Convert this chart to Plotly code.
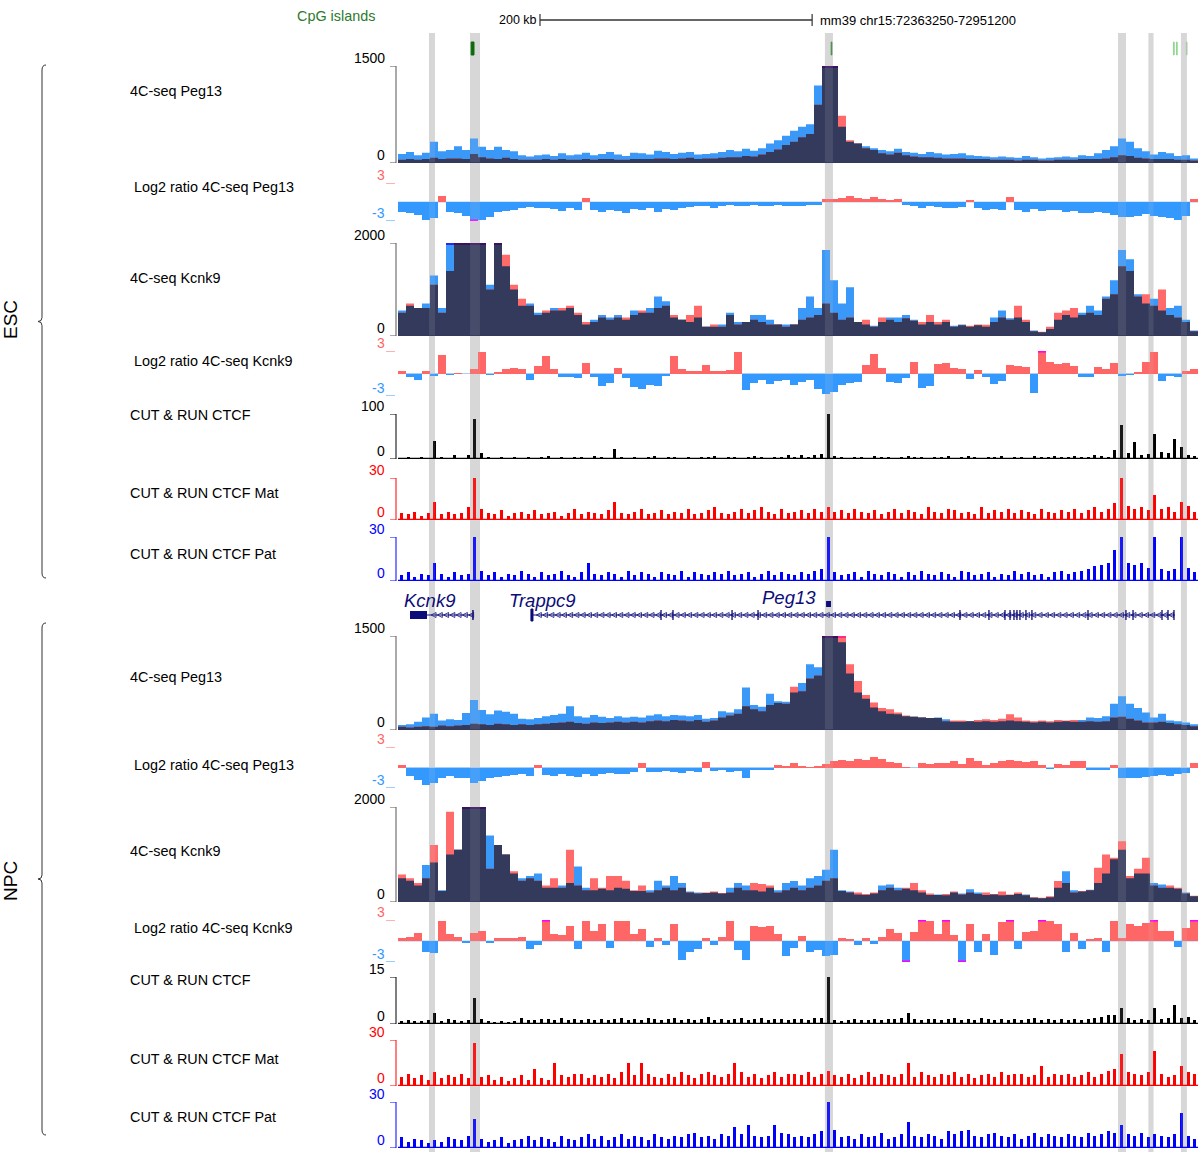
import numpy as np
import plotly.graph_objects as go

START, END = 72363250, 72951200
SPAN = END - START
ASSEMBLY, CHROM = "mm39", "chr15"

# ---------------- data ----------------
highlight_regions = [(72386050, 72390450), (72416200, 72423500), (72677000, 72682900),
                     (72892400, 72898300), (72914800, 72918500), (72938650, 72943050)]
cpg_islands = [(72417000, 72419100), (72681600, 72682100), (72933200, 72933700),
               (72935400, 72935900), (72942600, 72943100)]
cpg_colors = ['#0b6b0b', '#4f8f4f', '#8fd88f', '#8fd88f', '#a8c8a8']

kcnk9_span = (72372050, 72418350)
kcnk9_thick = (72372050, 72384550)
trappc9_span = (72460950, 72934250)
trappc9_exons = [72556550, 72565350, 72608750, 72627850, 72776250, 72797550, 72809350,
                 72813050, 72815950, 72818150, 72820350, 72824750, 72829150, 72870350,
                 72898250, 72903450, 72924750, 72929150, 72933550]
peg13_span = (72677850, 72681450)
scale_bar_bp = 200000
scale_bar_start = 72467600

esc_peg13_blue = [140,170,120,160,330,180,200,260,200,380,
 250,200,250,200,180,120,100,120,130,110,
 150,120,130,160,120,140,170,130,110,160,
 150,130,190,170,140,160,170,130,140,150,
 170,200,180,220,190,230,300,350,420,500,
 560,600,1200,1700,1700,560,330,300,260,230,
 200,180,220,170,160,140,170,150,130,140,
 150,120,110,100,90,100,90,80,110,90,
 70,80,90,100,90,120,110,150,200,260,
 380,330,230,180,130,170,150,110,120,70]
esc_peg13_red = [50,60,50,60,80,60,70,70,60,140,
 90,70,60,80,60,50,50,50,60,50,
 60,50,50,60,50,60,60,50,50,60,
 60,60,70,70,60,70,80,60,70,70,
 80,90,90,110,100,130,170,210,280,330,
 400,450,900,1700,1700,730,350,300,230,200,
 150,130,160,120,100,90,90,80,70,70,
 70,60,60,60,50,50,50,40,50,50,
 40,40,50,50,50,60,60,60,70,90,
 120,110,80,70,60,60,60,50,50,40]
esc_lr_peg13 = [-1.5,-1.8,-2.0,-2.8,-2.5,1.0,-1.6,-1.8,-2.2,-3.3,
 -2.8,-2.4,-1.6,-1.4,-1.2,-0.9,-0.8,-1.0,-0.9,-1.1,
 -1.4,-1.0,-1.2,0.7,-1.3,-1.6,-1.2,-1.4,-1.8,-1.1,
 -1.3,-1.0,-1.5,-1.1,-1.3,-1.0,-0.8,-0.7,-0.6,-0.9,
 -0.6,-0.5,-0.7,-0.6,-0.5,-0.7,-0.6,-0.5,-0.6,-0.6,
 -0.7,-0.5,-0.4,0.4,0.5,0.6,0.9,0.6,0.4,0.8,
 0.5,0.3,0.4,-0.5,-0.7,-0.9,-0.7,-0.8,-1.0,-0.9,
 -0.8,0.3,-1.0,-1.2,-1.1,-1.3,0.8,-1.2,-1.5,-1.1,
 -1.4,-1.2,-1.3,-1.6,-1.4,-1.7,-1.8,-1.5,-1.7,-2.1,
 -2.4,-2.3,-2.2,-1.9,-2.2,-2.4,-2.6,-2.9,-2.2,0.5]
esc_kcnk9_blue = [550,650,600,700,1300,600,2100,2100,2100,2100,
 2100,1100,2100,1500,1000,650,700,500,500,600,
 550,600,450,250,350,450,400,450,350,550,
 500,600,850,750,400,350,300,400,200,200,
 250,500,300,300,450,450,350,250,250,250,
 600,850,600,1850,1200,700,1050,300,250,220,
 300,400,400,450,350,250,300,250,300,220,
 250,200,230,200,400,550,380,400,300,120,
 80,150,350,450,400,500,650,550,850,1200,
 1850,1650,900,700,800,550,600,650,350,120]
esc_kcnk9_red = [500,700,600,600,1100,500,1400,2100,2100,2100,
 2100,1000,2100,1750,1100,800,650,450,550,550,
 600,650,500,300,300,400,350,400,400,450,
 550,500,600,650,450,350,450,650,200,250,
 200,450,250,300,350,300,250,250,200,250,
 350,400,450,700,500,350,400,300,350,200,
 400,350,300,380,330,300,450,300,350,200,
 230,220,250,240,300,400,350,650,350,100,
 90,200,500,550,600,450,500,450,800,900,
 1500,1400,850,900,650,1000,450,400,300,100]
esc_lr_kcnk9 = [0.4,-0.4,-0.8,0.3,-0.3,2.5,-0.2,0.1,-0.1,0.6,
 2.9,-0.2,0.2,0.6,0.7,0.6,-0.9,1.0,2.3,0.6,
 -0.5,-0.4,-0.6,1.4,-0.5,-1.6,-1.2,0.8,-0.6,-1.8,
 -2.0,-1.5,-1.6,-0.3,2.3,0.6,0.4,0.3,1.2,0.4,
 0.3,0.5,2.9,-2.2,-1.2,-0.9,-1.4,-1.0,-0.8,-1.5,
 -1.1,-0.9,-2.0,-2.7,-2.4,-1.5,-1.3,-1.1,1.2,2.6,
 0.8,-1.1,-1.2,-0.6,1.5,-1.9,-1.7,1.3,1.4,0.8,
 0.6,-0.7,0.5,-0.5,-1.4,-1.0,1.2,1.0,0.9,-2.6,
 3.3,1.5,1.3,1.4,1.0,-0.4,-0.5,0.9,0.6,1.4,
 -0.3,-0.2,0.2,1.6,2.9,-1.0,-0.3,-0.4,0.3,0.6]
esc_ctcf = [3,4,3,5,3,40,4,3,10,3,
 9,88,14,4,3,5,3,4,2,5,
 3,4,6,3,4,3,5,4,3,6,
 4,3,22,4,3,5,3,4,6,3,
 4,5,3,4,3,5,4,6,3,4,
 5,3,4,6,4,3,5,4,9,4,
 8,4,8,12,104,6,4,3,5,4,
 3,6,4,5,3,4,6,5,4,3,
 5,4,6,3,5,7,4,3,5,4,
 6,3,4,5,3,6,4,5,7,4,
 5,6,4,5,8,6,5,20,76,14,
 37,10,12,56,15,14,44,26,10,6]
esc_ctcf_mat = [5,4,6,3,5,13,4,6,4,5,
 9,32,8,5,4,7,3,5,6,4,
 7,4,5,6,3,5,8,4,6,5,
 4,7,13,5,4,6,8,4,5,7,
 4,6,5,8,4,5,7,9,5,4,
 6,8,5,7,9,6,4,8,5,6,
 7,5,8,6,9,6,7,5,8,6,
 5,7,4,6,8,5,7,6,4,9,
 6,5,8,7,5,6,4,9,5,7,
 6,8,5,7,6,4,8,6,5,7,
 6,8,5,7,9,6,8,12,33,10,
 8,9,7,18,8,9,6,13,10,6]
esc_ctcf_pat = [4,6,3,5,4,12,5,3,6,4,
 5,32,7,4,6,3,5,4,7,5,
 3,6,4,5,7,4,3,6,12,5,
 4,6,5,3,7,4,6,5,3,6,
 5,4,7,3,6,5,4,6,5,7,
 4,5,6,3,5,7,4,6,5,4,
 6,5,7,8,32,6,4,5,6,3,
 7,5,4,6,5,3,6,4,7,5,
 4,6,5,3,7,6,4,5,6,3,
 5,4,7,5,6,4,5,3,6,7,
 5,6,7,8,10,11,12,21,32,12,
 11,12,9,32,8,7,8,32,9,6]

npc_peg13_blue = [80,90,130,200,260,150,170,160,270,480,
 320,250,310,290,260,180,170,190,220,240,
 260,380,220,200,240,210,190,220,200,210,
 200,230,250,220,240,230,220,240,180,190,
 300,280,330,680,400,370,580,460,450,600,
 750,1050,1000,1600,1600,1400,900,600,500,360,
 300,260,250,220,210,200,190,200,170,130,
 130,140,130,140,130,140,150,140,130,120,
 130,120,130,140,130,160,200,190,220,420,
 540,420,350,280,200,260,150,140,120,90]
npc_peg13_red = [50,40,50,60,50,70,60,70,80,100,
 90,80,100,90,80,90,80,90,100,110,
 120,130,110,100,120,110,120,130,120,130,
 120,140,150,140,160,150,140,160,130,150,
 200,230,260,380,330,300,400,430,420,690,
 620,820,870,1600,1600,1600,1050,780,560,440,
 350,330,280,230,210,200,190,190,140,150,
 150,140,160,170,160,180,250,200,150,140,
 150,140,160,150,160,130,140,130,140,200,
 210,180,150,120,120,130,110,90,80,60]
npc_lr_peg13 = [0.3,-1.2,-1.8,-2.6,-2.2,-1.6,-1.3,-1.5,-1.6,-2.2,
 -2.0,-1.5,-1.4,-1.3,-1.1,-1.0,-1.2,0.4,-1.1,-1.3,
 -1.0,-1.2,-1.4,-1.0,-1.2,-0.9,-0.8,-1.0,-0.9,-0.7,
 0.6,-0.6,-0.7,-0.5,-0.6,-0.8,-0.5,-0.6,0.8,-0.5,
 -0.4,-0.6,-0.5,-1.5,-0.4,-0.3,-0.3,0.3,0.2,0.7,
 0.2,0.1,0.2,0.5,0.9,1.1,1.0,1.2,1.1,1.5,
 1.2,0.8,0.7,0.1,-0.1,0.6,0.5,0.7,0.6,0.9,
 0.5,1.4,0.9,0.4,0.6,1.0,1.1,1.0,0.8,0.9,
 0.4,-0.2,0.5,0.3,0.9,1.0,-0.3,-0.4,-0.3,0.4,
 -1.5,-1.6,-1.5,-1.4,-1.2,-1.1,-1.2,-1.0,-0.8,0.6]
npc_kcnk9_blue = [500,450,350,780,830,250,1000,1100,2100,2100,
 2100,1400,1200,1000,600,500,550,600,300,300,
 350,400,750,300,250,280,250,300,280,230,
 230,250,450,350,550,400,220,200,190,200,
 180,300,400,350,250,220,300,250,400,440,
 350,500,550,680,1100,250,220,160,150,180,
 350,370,300,280,250,200,150,160,140,200,
 180,270,200,150,160,140,150,170,160,90,
 80,100,300,650,250,220,260,400,600,900,
 1100,500,600,600,400,370,300,280,200,120]
npc_kcnk9_red = [580,500,400,500,1200,230,1900,1100,2100,2100,
 2100,700,1200,1000,650,450,500,450,350,500,
 300,1100,350,250,500,300,550,550,450,250,
 350,200,250,300,250,300,200,180,200,220,
 190,200,300,250,400,380,350,200,250,300,
 250,300,350,450,500,230,200,200,170,200,
 250,300,250,300,400,250,180,150,170,220,
 160,200,170,200,170,220,160,200,140,100,
 90,120,440,400,200,230,250,720,1000,930,
 1280,550,700,930,350,300,350,300,180,130]
npc_lr_kcnk9 = [0.4,0.6,1.2,-1.5,-1.7,2.9,1.0,0.6,-0.3,1.2,
 1.4,-0.3,0.4,0.5,0.5,0.6,-1.2,-0.6,3.3,1.0,
 0.8,2.2,-1.2,2.9,1.5,2.5,-1.0,2.9,2.8,1.0,
 1.7,-0.8,0.5,-0.5,2.5,-2.7,-1.6,-1.2,0.5,-0.6,
 0.6,2.9,-1.3,-2.7,2.2,2.0,2.2,1.0,-2.2,-1.0,
 0.7,-1.5,-1.3,-2.2,-2.0,0.5,0.3,-0.5,0.5,-0.4,
 0.6,1.7,1.2,-3.3,1.3,3.3,2.9,1.0,3.3,0.8,
 -3.3,2.5,-1.5,1.0,-2.0,2.7,3.3,-1.2,1.3,1.5,
 3.3,2.8,2.5,-1.5,1.2,-1.2,0.3,0.4,-1.5,2.9,
 0.5,2.5,2.2,2.6,3.3,1.5,1.4,-0.8,1.8,3.3]
npc_ctcf = [1.0,1.2,0.8,1.1,1.3,3.6,1.0,1.6,1.2,0.9,
 1.4,8.4,1.5,1.0,0.7,0.8,0.6,0.9,1.8,1.4,
 1.3,1.6,1.5,1.2,1.8,1.4,1.6,1.3,1.5,1.2,
 1.7,1.4,1.5,1.9,1.3,1.6,1.4,2.0,1.5,1.3,
 1.6,1.8,1.4,1.7,1.3,1.5,2.2,1.4,1.6,1.3,
 1.5,1.8,1.4,1.6,1.9,1.3,1.5,1.7,1.4,1.6,
 1.5,1.3,1.8,2.0,14.9,1.4,1.1,1.3,1.6,1.2,
 1.4,1.7,1.3,1.5,1.5,1.8,3.4,1.6,1.2,1.5,
 1.6,1.3,1.5,1.8,1.4,1.6,1.3,1.9,1.5,1.4,
 1.7,1.3,1.6,1.4,1.5,1.8,1.2,1.6,1.4,1.5,
 1.3,1.5,1.2,1.6,1.8,2.2,2.8,3.0,5.2,1.8,
 1.4,1.5,1.3,5.2,1.6,1.8,6.0,2.0,2.2,1.4]
npc_ctcf_mat = [6,8,5,7,4,9,5,7,6,8,
 5,28,6,7,4,6,3,5,7,4,
 11,5,4,15,7,6,8,8,5,7,
 6,8,5,9,15,7,15,8,6,5,
 8,6,9,7,5,8,9,7,6,8,
 15,9,6,8,5,7,9,6,8,8,
 7,9,6,8,10,7,6,8,5,7,
 9,6,8,7,6,8,15,6,9,7,
 6,8,7,9,6,8,5,7,8,6,
 9,7,8,8,6,7,13,6,8,7,
 8,6,7,9,6,8,10,11,21,9,
 8,7,9,23,8,6,7,13,9,8]
npc_ctcf_pat = [7,4,6,5,3,5,4,7,6,5,
 8,19,6,4,5,7,3,5,6,8,
 5,7,6,4,8,6,5,7,9,6,
 8,5,7,9,6,8,7,5,9,7,
 6,8,7,9,10,7,8,6,9,8,
 14,9,15,8,7,8,15,10,9,7,
 8,7,9,11,32,12,7,8,6,9,
 7,8,10,6,7,9,17,8,7,9,
 8,6,11,9,11,12,8,7,9,10,
 8,7,9,6,8,10,7,9,8,7,
 9,8,7,10,8,9,11,10,15,9,
 8,10,7,9,8,7,9,23,8,6]

# ---------------- styling / layout ----------------
FONT = "Liberation Sans, Arial, Helvetica, sans-serif"
BLUE, RED, NAVY = '#3a99f8', '#ff6b6b', '#333a5c'
LR_POS, LR_NEG = '#ff6666', '#3399ff'
GENE = '#0c0c78'
LABEL_SIZE = 14.4
TICK_SIZE = 14

FW, FH = 1200, 1152

tracks = [
    dict(kind='4c', top=66, bot=163, vmin=0, vmax=1500, a=esc_peg13_blue, b=esc_peg13_red, label='4C-seq Peg13', ly=91, lx=130, col='#555555'),
    dict(kind='lr', top=183, bot=221, vmin=-3, vmax=3, a=esc_lr_peg13, label='Log2 ratio 4C-seq Peg13', ly=187, lx=134),
    dict(kind='4c', top=243, bot=336, vmin=0, vmax=2000, a=esc_kcnk9_blue, b=esc_kcnk9_red, label='4C-seq Kcnk9', ly=278, lx=130, col='#555555'),
    dict(kind='lr', top=351, bot=396, vmin=-3, vmax=3, a=esc_lr_kcnk9, label='Log2 ratio 4C-seq Kcnk9', ly=361, lx=134),
    dict(kind='cr', top=414, bot=459, vmin=0, vmax=100, a=esc_ctcf, label='CUT & RUN CTCF', ly=415, lx=130, col='#000000'),
    dict(kind='cr', top=478, bot=520, vmin=0, vmax=30, a=esc_ctcf_mat, label='CUT & RUN CTCF Mat', ly=493, lx=130, col='#ff0000'),
    dict(kind='cr', top=537, bot=581, vmin=0, vmax=30, a=esc_ctcf_pat, label='CUT & RUN CTCF Pat', ly=554, lx=130, col='#0000ff'),
    dict(kind='4c', top=636, bot=730, vmin=0, vmax=1500, a=npc_peg13_blue, b=npc_peg13_red, label='4C-seq Peg13', ly=677, lx=130, col='#555555'),
    dict(kind='lr', top=747, bot=788, vmin=-3, vmax=3, a=npc_lr_peg13, label='Log2 ratio 4C-seq Peg13', ly=765, lx=134),
    dict(kind='4c', top=807, bot=902, vmin=0, vmax=2000, a=npc_kcnk9_blue, b=npc_kcnk9_red, label='4C-seq Kcnk9', ly=851, lx=130, col='#555555'),
    dict(kind='lr', top=920, bot=962, vmin=-3, vmax=3, a=npc_lr_kcnk9, label='Log2 ratio 4C-seq Kcnk9', ly=928, lx=134),
    dict(kind='cr', top=977, bot=1024, vmin=0, vmax=15, a=npc_ctcf, label='CUT & RUN CTCF', ly=980, lx=130, col='#000000'),
    dict(kind='cr', top=1040, bot=1086, vmin=0, vmax=30, a=npc_ctcf_mat, label='CUT & RUN CTCF Mat', ly=1059, lx=130, col='#ff0000'),
    dict(kind='cr', top=1102, bot=1148, vmin=0, vmax=30, a=npc_ctcf_pat, label='CUT & RUN CTCF Pat', ly=1117, lx=130, col='#0000ff'),
]

def px(x): return x / FW
def py(y): return 1 - y / FH
def fmt(v): return str(int(v)) if float(v).is_integer() else str(v)

fig = go.Figure()
shapes, annotations = [], []
layout_axes = {'xaxis': dict(domain=[px(398), px(1198)], range=[START, END], visible=False, fixedrange=True)}

# highlight bands: paper-referenced in y so they sit below every subplot
for s, e in highlight_regions:
    shapes.append(dict(type='rect', xref='x', yref='paper', x0=s, x1=e, y0=0, y1=py(33), fillcolor='#d9d9d9', line=dict(width=0), layer='below'))
    shapes.append(dict(type='rect', xref='x', yref='paper', x0=s, x1=e, y0=0, y1=py(33), fillcolor='rgba(200,200,200,0.13)', line=dict(width=0), layer='above'))

for k, t in enumerate(tracks, start=1):
    yref = 'y' if k == 1 else f'y{k}'
    layout_axes['yaxis' if k == 1 else f'yaxis{k}'] = dict(
        domain=[py(t['bot']), py(t['top'])], range=[t['vmin'], t['vmax']],
        visible=False, fixedrange=True, anchor='x')
    vmax, vmin = t['vmax'], t['vmin']
    a = np.asarray(t['a'], float)
    n = len(a)
    bw = SPAN / n
    xc = START + (np.arange(n) + 0.5) * bw
    common = dict(xaxis='x', yaxis=yref, hoverinfo='skip', showlegend=False)
    if t['kind'] == '4c':
        b = np.asarray(t['b'], float)
        xs = START + np.arange(n + 1) * bw
        ea = np.append(a, a[-1])
        eb = np.append(b, b[-1])
        for arr, col in ((ea, BLUE), (eb, RED), (np.minimum(ea, eb), NAVY)):
            fig.add_trace(go.Scatter(x=xs, y=arr, mode='lines', line=dict(width=0, color=col, shape='hv'),
                                     fill='tozeroy', fillcolor=col, **common))
        for mask, col in (((a > vmax) & (b > vmax), '#3c1260'), ((b > vmax) & (a <= vmax), '#ff2a8a'),
                          ((a > vmax) & (b <= vmax), '#2a2adf')):
            xx, yy = [], []
            for i in np.where(mask)[0]:
                xx += [START + i * bw, START + (i + 1) * bw, None]
                yy += [vmax * 0.992, vmax * 0.992, None]
            if xx:
                fig.add_trace(go.Scatter(x=xx, y=yy, mode='lines', line=dict(width=2.5, color=col), **common))
        shapes.append(dict(type='line', xref='x', yref=yref, x0=START, x1=END, y0=0, y1=0,
                           line=dict(color=NAVY, width=1.5)))
    elif t['kind'] == 'lr':
        fig.add_trace(go.Bar(x=xc, y=np.clip(a, 0, None), width=bw, marker=dict(color=LR_POS, line=dict(width=0)), **common))
        fig.add_trace(go.Bar(x=xc, y=np.clip(a, None, 0), width=bw, marker=dict(color=LR_NEG, line=dict(width=0)), **common))
        xx, yy = [], []
        for i in np.where(np.abs(a) > vmax)[0]:
            s = vmax if a[i] > 0 else vmin
            xx += [START + i * bw, START + (i + 1) * bw, None]
            yy += [s * 0.985, s * 0.985, None]
        if xx:
            fig.add_trace(go.Scatter(x=xx, y=yy, mode='lines', line=dict(width=2.5, color='#ff00ff'), **common))
        shapes.append(dict(type='line', xref='x', yref=yref, x0=START, x1=END, y0=0, y1=0,
                           line=dict(color='#a9cdf3', width=1), layer='below'))
    else:
        fig.add_trace(go.Bar(x=xc, y=a, width=bw * 0.45, marker=dict(color=t['col'], line=dict(width=0)), **common))
        shapes.append(dict(type='line', xref='x', yref=yref, x0=START, x1=END, y0=0, y1=0,
                           line=dict(color=t['col'], width=2.5)))

    if t['kind'] == 'lr':
        top_col, bot_col = LR_POS, LR_NEG
        shapes.append(dict(type='line', xref='paper', yref=yref, x0=px(386), x1=px(395), y0=vmax, y1=vmax, line=dict(color=top_col, width=1)))
        shapes.append(dict(type='line', xref='paper', yref=yref, x0=px(386), x1=px(395), y0=vmin, y1=vmin, line=dict(color=bot_col, width=1)))
        lab_cols = (top_col, bot_col)
    else:
        c = t['col']
        for v in (vmin, vmax):
            shapes.append(dict(type='line', xref='paper', yref=yref, x0=px(390), x1=px(396), y0=v, y1=v, line=dict(color=c, width=1)))
        shapes.append(dict(type='line', xref='paper', yref=yref, x0=px(396), x1=px(396), y0=vmin, y1=vmax, line=dict(color=c, width=1)))
        lab_cols = ('#000000', '#000000') if t['kind'] == '4c' or c == '#000000' else (c, c)
    for v, lc in ((vmax, lab_cols[0]), (vmin, lab_cols[1])):
        annotations.append(dict(text=fmt(v), xref='paper', yref=yref, x=px(387), y=v, xanchor='right',
                                yanchor='bottom', yshift=-2, showarrow=False, font=dict(family=FONT, size=TICK_SIZE, color=lc)))
    annotations.append(dict(text=t['label'], xref='paper', yref='paper', x=px(t['lx'] - 2), y=py(t['ly']),
                            xanchor='left', yanchor='middle', showarrow=False, font=dict(family=FONT, size=LABEL_SIZE, color='#000000')))

# pixel-frame axis for decorations (gene track, header), in page pixel units
G = len(tracks) + 1
gy = f'y{G}'
layout_axes[f'yaxis{G}'] = dict(domain=[0, 1], range=[FH, 0], visible=False, fixedrange=True, anchor='x')

for (s, e), c in zip(cpg_islands, cpg_colors):
    shapes.append(dict(type='rect', xref='x', yref=gy, x0=s, x1=e, y0=42, y1=55, fillcolor=c, line=dict(color=c, width=1)))
annotations.append(dict(text='CpG islands', xref='paper', yref=gy, x=px(295), y=16, xanchor='left', yanchor='middle',
                        showarrow=False, font=dict(family=FONT, size=LABEL_SIZE, color='#2c7a2c')))

sb0, sb1 = scale_bar_start, scale_bar_start + scale_bar_bp
shapes.append(dict(type='line', xref='x', yref=gy, x0=sb0, x1=sb1, y0=20, y1=20, line=dict(color='#333333', width=1.5)))
for xv in (sb0, sb1):
    shapes.append(dict(type='line', xref='x', yref=gy, x0=xv, x1=xv, y0=14, y1=26, line=dict(color='#333333', width=1.2)))
annotations.append(dict(text=f'{scale_bar_bp // 1000} kb', xref='x', yref=gy, x=sb0, y=20, xanchor='right', xshift=-1,
                        yanchor='middle', showarrow=False, font=dict(family=FONT, size=12.5, color='#000000')))
annotations.append(dict(text=f'{ASSEMBLY} {CHROM}:{START}-{END}', xref='x', yref=gy, x=sb1, y=20, xanchor='left', xshift=6,
                        yanchor='middle', showarrow=False, font=dict(family=FONT, size=13, color='#000000')))

GY = 615
shapes.append(dict(type='line', xref='x', yref=gy, x0=kcnk9_span[0], x1=kcnk9_span[1], y0=GY, y1=GY, line=dict(color=GENE, width=1)))
shapes.append(dict(type='rect', xref='x', yref=gy, x0=kcnk9_thick[0], x1=kcnk9_thick[1], y0=611, y1=619, fillcolor=GENE, line=dict(width=0)))
shapes.append(dict(type='line', xref='x', yref=gy, x0=kcnk9_span[1], x1=kcnk9_span[1], y0=610, y1=620, line=dict(color=GENE, width=1.5)))
shapes.append(dict(type='line', xref='x', yref=gy, x0=trappc9_span[0], x1=trappc9_span[1], y0=GY, y1=GY, line=dict(color=GENE, width=1)))
shapes.append(dict(type='rect', xref='x', yref=gy, x0=trappc9_span[0], x1=trappc9_span[0] + 1500, y0=609, y1=621, fillcolor=GENE, line=dict(color=GENE, width=1)))
for ex in trappc9_exons:
    shapes.append(dict(type='line', xref='x', yref=gy, x0=ex, x1=ex, y0=610, y1=620, line=dict(color=GENE, width=1.3)))
shapes.append(dict(type='rect', xref='x', yref=gy, x0=peg13_span[0], x1=peg13_span[1], y0=601, y1=607, fillcolor=GENE, line=dict(width=0)))

chev_x = np.concatenate([np.arange(kcnk9_thick[1] + 3000, kcnk9_span[1] - 1000, 4600),
                         np.arange(trappc9_span[0] + 4000, trappc9_span[1] - 1000, 4600)])
fig.add_trace(go.Scatter(x=chev_x, y=np.full(len(chev_x), GY), mode='markers', xaxis='x', yaxis=gy,
                         marker=dict(symbol='arrow-left-open', size=5, color=GENE, line=dict(width=0.8, color=GENE)),
                         hoverinfo='skip', showlegend=False))

gfont = dict(family=FONT, size=18.5, color=GENE)
annotations.append(dict(text='<i>Kcnk9</i>', xref='x', yref=gy, x=kcnk9_span[0], xshift=-8, y=600, xanchor='left', yanchor='middle', showarrow=False, font=gfont))
annotations.append(dict(text='<i>Trappc9</i>', xref='x', yref=gy, x=trappc9_span[0], xshift=-24, y=600, xanchor='left', yanchor='middle', showarrow=False, font=gfont))
annotations.append(dict(text='<i>Peg13</i>', xref='x', yref=gy, x=peg13_span[0], xshift=-8, y=597, xanchor='right', yanchor='middle', showarrow=False, font=gfont))

def brace(top, bot):
    mid = (top + bot) / 2
    pts = f"M {px(46)},{py(top)} Q {px(42)},{py(top)} {px(42)},{py(top + 5)} L {px(42)},{py(mid - 4)} " \
          f"Q {px(42)},{py(mid)} {px(38)},{py(mid)} Q {px(42)},{py(mid)} {px(42)},{py(mid + 4)} " \
          f"L {px(42)},{py(bot - 5)} Q {px(42)},{py(bot)} {px(46)},{py(bot)}"
    return dict(type='path', xref='paper', yref='paper', path=pts, line=dict(color='#333333', width=1))

shapes.append(brace(65, 578))
shapes.append(brace(623, 1135))
for txt, yc in (('ESC', 320), ('NPC', 881)):
    annotations.append(dict(text=txt, xref='paper', yref='paper', x=px(10), y=py(yc), textangle=-90,
                            xanchor='center', yanchor='middle', showarrow=False, font=dict(family=FONT, size=19, color='#000000')))

fig.update_layout(width=FW, height=FH, margin=dict(l=0, r=0, t=0, b=0), paper_bgcolor='white',
                  plot_bgcolor='rgba(0,0,0,0)', barmode='overlay', bargap=0, showlegend=False,
                  shapes=shapes, annotations=annotations, **layout_axes)
fig.write_html("out.html", config={'displayModeBar': False, 'staticPlot': True},
               post_script="document.body.style.margin='0';document.body.style.overflow='hidden';")
